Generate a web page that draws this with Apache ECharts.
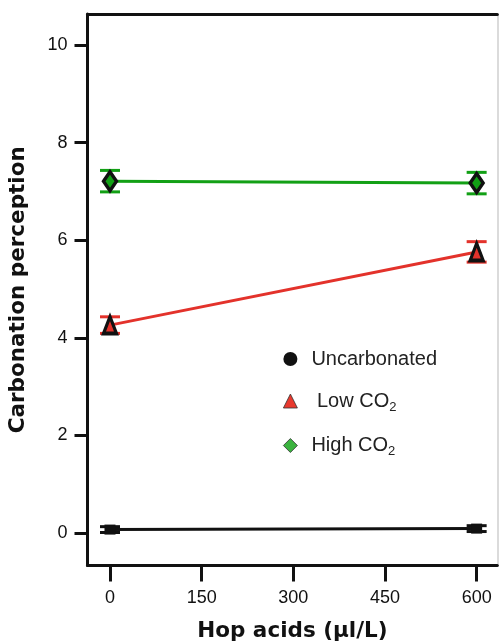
<!DOCTYPE html>
<html>
<head>
<meta charset="utf-8">
<script src="https://cdn.jsdelivr.net/npm/echarts@6/dist/echarts.min.js"></script>
<style>html,body{margin:0;padding:0;background:#fff}#c{width:499px;height:644px}</style>
</head>
<body>
<div id="c"></div>
<script>
var hopAcids = [0, 600];
var uncarbMean = [0.07, 0.09];
var uncarbErr = [0.06, 0.06];
var lowMean = [4.26, 5.76];
var lowErr = [0.17, 0.21];
var highMean = [7.21, 7.17];
var highErr = [0.22, 0.22];
var xTicks = [0, 150, 300, 450, 600];
var yTicks = [0, 2, 4, 6, 8, 10];

function pts(m) { return hopAcids.map(function (x, i) { return [x, m[i]]; }); }
function errData(m, e) { return hopAcids.map(function (x, i) { return [x, m[i] - e[i], m[i] + e[i]]; }); }

function errSeries(m, e, color) {
  return {
    type: 'custom', z: 2, silent: true,
    data: errData(m, e),
    renderItem: function (params, api) {
      var x = api.value(0);
      var lo = api.coord([x, api.value(1)]);
      var hi = api.coord([x, api.value(2)]);
      var hw = 10;
      var st = { stroke: color, lineWidth: 3 };
      return { type: 'group', children: [
        { type: 'line', shape: { x1: lo[0], y1: lo[1], x2: hi[0], y2: hi[1] }, style: st },
        { type: 'line', shape: { x1: lo[0] - hw, y1: lo[1], x2: lo[0] + hw, y2: lo[1] }, style: st },
        { type: 'line', shape: { x1: hi[0] - hw, y1: hi[1], x2: hi[0] + hw, y2: hi[1] }, style: st }
      ]};
    }
  };
}

var green = '#12a015', red = '#e3322b', black = '#111111';
var chart = echarts.init(document.getElementById('c'));
var rich = { a: { fontSize: 20, fontFamily: 'Liberation Sans', color: '#222' }, s: { fontSize: 13, fontFamily: 'Liberation Sans', color: '#222', padding: [12, 0, 0, 0] } };
chart.setOption({
  animation: false,
  grid: { left: 87.5, right: 1.7, top: 14, bottom: 78.5, outerBoundsMode: 'none' },
  xAxis: [{
    type: 'value', min: -36.8, max: 633.8,
    name: 'Hop acids (\u00b5l/L)', nameLocation: 'middle', nameGap: 55,
    nameTextStyle: { fontFamily: 'DejaVu Sans', fontWeight: 'bold', fontSize: 21.5, color: '#111' },
    axisLine: { show: true, onZero: false, lineStyle: { color: '#111', width: 3 } },
    axisTick: { show: true, length: 16, lineStyle: { color: '#111', width: 3 }, customValues: xTicks },
    axisLabel: { fontFamily: 'Liberation Sans', fontSize: 18, color: '#111', margin: 24, customValues: xTicks },
    splitLine: { show: false }
  }, {
    type: 'value', position: 'top', min: -36.8, max: 633.8,
    axisLine: { show: true, onZero: false, lineStyle: { color: '#111', width: 3 } },
    axisTick: { show: false }, axisLabel: { show: false }, splitLine: { show: false }
  }],
  yAxis: [{
    type: 'value', min: -0.666, max: 10.635,
    name: 'Carbonation perception', nameLocation: 'middle', nameGap: 58, nameRotate: 90,
    nameTextStyle: { fontFamily: 'DejaVu Sans', fontWeight: 'bold', fontSize: 21.5, color: '#111' },
    axisLine: { show: true, onZero: false, lineStyle: { color: '#111', width: 3 } },
    axisTick: { show: true, length: 13, lineStyle: { color: '#111', width: 3 }, customValues: yTicks },
    axisLabel: { fontFamily: 'Liberation Sans', fontSize: 18, color: '#111', margin: 20, customValues: yTicks },
    splitLine: { show: false }
  }, {
    type: 'value', position: 'right', min: -0.666, max: 10.635,
    axisLine: { show: true, onZero: false, lineStyle: { color: '#cfcfcf', width: 1.5 } },
    axisTick: { show: false }, axisLabel: { show: false }, splitLine: { show: false }
  }],
  legend: {
    orient: 'vertical', left: 283, top: 349, padding: 0, itemWidth: 14, itemHeight: 14, itemGap: 22,
    textStyle: { fontFamily: 'Liberation Sans', fontSize: 20, color: '#222', padding: [0, 0, 0, 9], rich: rich },
    formatter: function (n) { return n === 'Uncarbonated' ? '{a|Uncarbonated}' : (n === 'Low CO2' ? '{a| Low CO}{s|2}' : '{a|High CO}{s|2}'); },
    data: [
      { name: 'Uncarbonated', icon: 'circle', itemStyle: { color: black, borderWidth: 0 } },
      { name: 'Low CO2', icon: 'triangle', itemStyle: { color: '#e8392e', borderColor: '#333', borderWidth: 0.8 } },
      { name: 'High CO2', icon: 'diamond', itemStyle: { color: '#3bb33f', borderColor: '#333', borderWidth: 0.8 } }
    ]
  },
  series: [
    errSeries(uncarbMean, uncarbErr, black),
    errSeries(lowMean, lowErr, red),
    errSeries(highMean, highErr, green),
    { name: 'Uncarbonated', type: 'line', z: 3, data: pts(uncarbMean), symbol: 'rect', symbolSize: [11, 10],
      lineStyle: { color: black, width: 3 }, itemStyle: { color: black, borderWidth: 0 } },
    { name: 'Low CO2', type: 'line', z: 3, data: pts(lowMean), symbol: 'triangle', symbolSize: [13, 17],
      lineStyle: { color: red, width: 3 }, itemStyle: { color: red, borderColor: black, borderWidth: 3.5 } },
    { name: 'High CO2', type: 'line', z: 3, data: pts(highMean), symbol: 'diamond', symbolSize: [13, 19],
      lineStyle: { color: green, width: 3 }, itemStyle: { color: green, borderColor: black, borderWidth: 3.5 } }
  ]
});
</script>
</body>
</html>
